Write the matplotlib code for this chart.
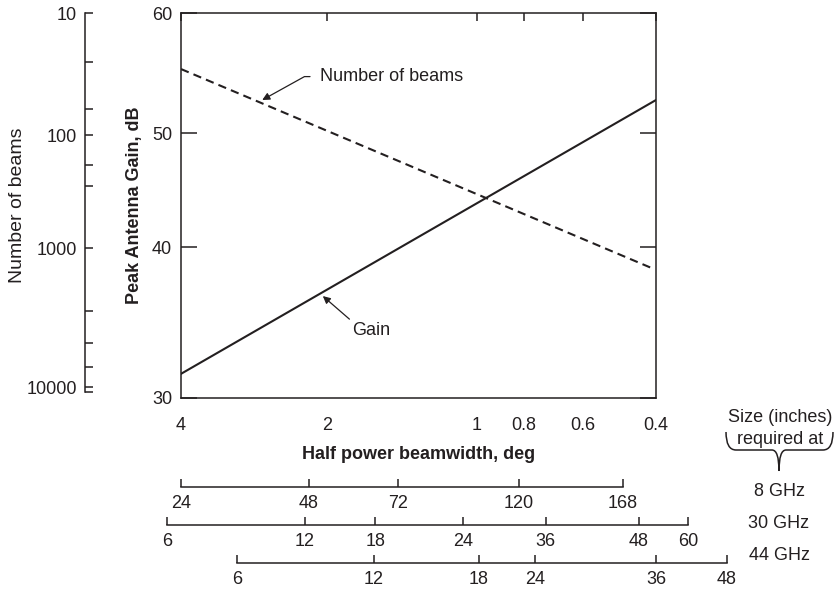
import numpy as np
import matplotlib
matplotlib.use('Agg')
import matplotlib.pyplot as plt
from matplotlib.path import Path
from matplotlib.patches import PathPatch
from matplotlib.ticker import NullLocator, NullFormatter

plt.rcParams['font.family'] = ['Liberation Sans', 'DejaVu Sans']
plt.rcParams['font.size'] = 13

INK = '#231f20'

# half power beamwidth (deg) vs peak gain (dB) and number of beams
bw_gain = [4, 0.4]
gain_db = [31.6, 52.75]
bw_beams = [4, 0.41]
n_beams = [28.8, 1393]

bw_ticks = [4, 2, 1, 0.8, 0.6, 0.4]
gain_ticks = [30, 40, 50, 60]
beam_ticks = [10, 100, 1000, 10000]
beam_minor = [25, 61, 184, 282, 2840, 4820, 7180, 10870]

# antenna size (inches) and the beamwidth each one lines up with
size_8 = [24, 48, 72, 120, 168]
bw_8 = [4.0, 2.18, 1.44, 0.819, 0.480]
size_30 = [6, 12, 18, 24, 36, 48, 60]
bw_30 = [4.28, 2.22, 1.60, 1.067, 0.719, 0.4395, 0.3424]
size_44 = [6, 12, 18, 24, 36, 48]
bw_44 = [3.07, 1.61, 0.99, 0.758, 0.40, 0.2835]
bands = ['8 GHz', '30 GHz', '44 GHz']

# the printed scales are hand drawn and not evenly spaced -> calibrate them
bw_cal = np.array([20, 4, 2, 1, 0.8, 0.6, 0.4, 0.05])
bw_u = [-332, 0, 146, 296, 343, 402, 475, 904]
gain_cal = [30, 40, 50, 60]
gain_u = [0, 151, 265, 385]
logn_cal = [1, 2, 3, 4, 4.08]
logn_u = [385, 263, 150, 11, 0]


def bw_to_u(bw):
    return np.interp(-np.log10(np.clip(bw, 1e-6, None)), -np.log10(bw_cal), bw_u)


def u_to_bw(u):
    return 10 ** -np.interp(u, bw_u, -np.log10(bw_cal))


# forward functions must increase with the data value
def bw_fwd(bw):
    return -bw_to_u(bw)


def bw_inv(v):
    return u_to_bw(-np.asarray(v))


def gain_fwd(g):
    return np.interp(g, gain_cal, gain_u)


def gain_inv(u):
    return np.interp(u, gain_u, gain_cal)


def beams_fwd(n):
    return -np.interp(np.log10(np.clip(n, 1e-3, None)), logn_cal, logn_u)


def beams_inv(v):
    return 10 ** np.interp(-np.asarray(v), logn_u[::-1], logn_cal[::-1])


fig = plt.figure(figsize=(8.38, 5.9), dpi=100)
ax = fig.add_axes([181/838, 192/590, 475/838, 385/590])
bx = ax.twinx()

ax.set_xscale('function', functions=(bw_fwd, bw_inv))
ax.set_xlim(4, 0.4)
ax.set_yscale('function', functions=(gain_fwd, gain_inv))
ax.set_ylim(30, 60)
ax.plot(bw_gain, gain_db, color=INK, lw=1.5)

ax.set_xticks(bw_ticks, [str(t) for t in bw_ticks])
ax.set_xticks(bw_ticks[1:-1], minor=True)
ax.xaxis.set_minor_formatter(NullFormatter())
ax.tick_params(axis='x', which='major', direction='in', length=5.8, width=1.1,
               top=True, bottom=False, labelbottom=True, pad=13.5,
               color=INK, labelcolor=INK)
ax.tick_params(axis='x', which='minor', direction='out', length=5.8, width=1.1,
               top=False, bottom=True, color=INK)
ax.set_yticks(gain_ticks, [str(t) for t in gain_ticks])
ax.yaxis.set_minor_locator(NullLocator())
ax.tick_params(axis='y', direction='in', length=11.5, width=1.1, left=True,
               right=True, labelleft=True, labelright=False, pad=6.5,
               color=INK, labelcolor=INK)
for s in ax.spines.values():
    s.set_linewidth(1.1)
    s.set_color(INK)
ax.set_xlabel('Half power beamwidth, deg', fontweight='bold', color=INK)
ax.xaxis.set_label_coords(0.5, -0.125)
ax.set_ylabel('Peak Antenna Gain, dB', fontweight='bold', color=INK)
ax.yaxis.set_label_coords(-0.08, 0.5)

# number of beams axis, pushed out to the left
bx.set_yscale('function', functions=(beams_fwd, beams_inv))
bx.set_ylim(10 ** 4.08, 10)
bx.plot(bw_beams, n_beams, color=INK, lw=1.5, ls=(0, (4, 2.5)))
bx.yaxis.set_ticks_position('left')
bx.yaxis.set_label_position('left')
for k in ['right', 'top', 'bottom']:
    bx.spines[k].set_visible(False)
bx.spines['left'].set_position(('outward', 69.1))
bx.spines['left'].set_bounds(10, 10870)
bx.spines['left'].set_linewidth(1.1)
bx.spines['left'].set_color(INK)
bx.set_yticks(beam_ticks, [str(t) for t in beam_ticks])
bx.set_yticks(beam_minor, minor=True)
bx.yaxis.set_minor_formatter(NullFormatter())
bx.tick_params(axis='y', which='both', direction='in', length=5.8, width=1.1,
               left=True, right=False, labelleft=True, labelright=False,
               pad=5.8, color=INK, labelcolor=INK)
bx.set_ylabel('Number of beams', color=INK, fontsize=14)
bx.yaxis.set_label_coords(-0.327, 0.5)

ax.annotate('Number of beams', xy=(2.72, 52.75), xytext=(2.07, 54.7),
            ha='left', va='center', color=INK,
            arrowprops=dict(arrowstyle='-|>', color=INK, lw=0.9,
                            connectionstyle='angle,angleA=0,angleB=29',
                            relpos=(0, 0.5), shrinkA=5, shrinkB=0,
                            mutation_scale=11))
ax.annotate('Gain', xy=(2.04, 36.75), xytext=(1.78, 34.5),
            ha='left', va='center', color=INK,
            arrowprops=dict(arrowstyle='-|>', color=INK, lw=0.9,
                            relpos=(0, 1), shrinkA=0, shrinkB=0,
                            mutation_scale=11))

# size scales under the beamwidth axis, same mapping as the main x axis
sx = fig.add_axes([0, 0, 1, 1])
sx.set_xscale('function', functions=(bw_fwd, bw_inv))
sx.set_xlim(u_to_bw(-181), u_to_bw(838 - 181))
sx.set_ylim(590, 0)
sx.axis('off')
rows = [(size_8, bw_8, 487), (size_30, bw_30, 525), (size_44, bw_44, 563)]
for sizes, bws, y in rows:
    sx.plot([bws[0], bws[-1]], [y, y], color=INK, lw=1.1)
    sx.vlines(bws, y - 8, y, color=INK, lw=1.1)
    for sz, b in zip(sizes, bws):
        sx.text(b, y + 16.5, str(sz), ha='center', va='center', color=INK)

# legend of the scales on the right
ov = fig.add_axes([0, 0, 1, 1])
ov.set_xlim(0, 838)
ov.set_ylim(590, 0)
ov.axis('off')
ov.text(780, 418, 'Size (inches)', ha='center', va='center', color=INK)
ov.text(780, 440, 'required at', ha='center', va='center', color=INK)
for band, y in zip(bands, [492, 524, 555]):
    ov.text(779, y, band, ha='center', va='center', color=INK)
verts = [(726, 432), (726, 450), (736, 450), (772, 450), (779, 450), (779, 471),
         (779, 450), (786, 450), (823, 450), (833, 450), (833, 432)]
codes = [Path.MOVETO, Path.CURVE3, Path.CURVE3, Path.LINETO, Path.CURVE3,
         Path.CURVE3, Path.CURVE3, Path.CURVE3, Path.LINETO, Path.CURVE3,
         Path.CURVE3]
ov.add_patch(PathPatch(Path(verts, codes), fill=False, lw=1.1, edgecolor=INK))

fig.savefig('out.png', dpi=100)
